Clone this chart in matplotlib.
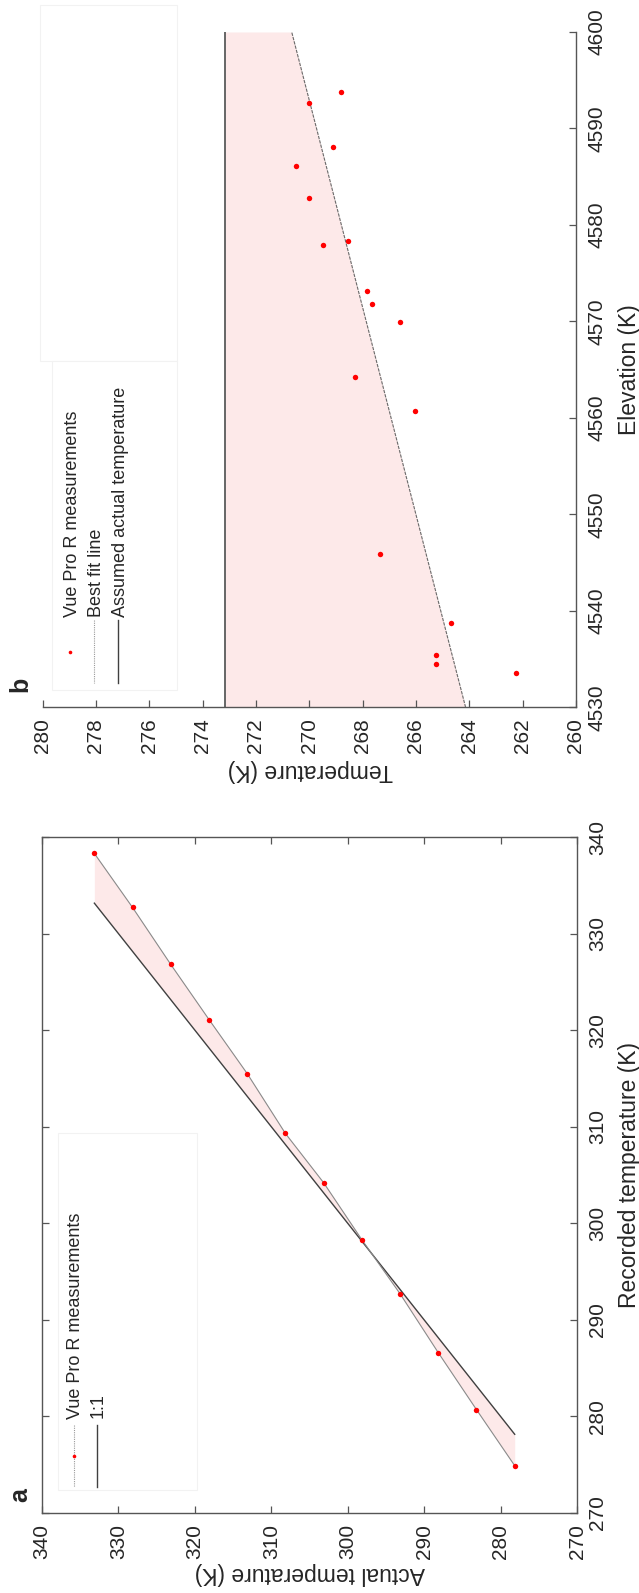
import matplotlib
matplotlib.use('Agg')
import matplotlib.pyplot as plt
from matplotlib.lines import Line2D
from matplotlib.patches import Rectangle

plt.rcParams['font.family'] = ['Liberation Sans', 'DejaVu Sans']

# ---------------- Panel a data ----------------
actual_a = [278.15, 283.15, 288.15, 293.15, 298.15, 303.15,
            308.15, 313.15, 318.15, 323.15, 328.15, 333.15]
recorded_a = [274.9, 280.7, 286.6, 292.7, 298.3, 304.2,
              309.3, 315.5, 321.1, 326.8, 332.7, 338.3]
one_to_one = [278.15, 333.15]
a_ticks = [270, 280, 290, 300, 310, 320, 330, 340]
a_xlabel = 'Actual temperature (K)'
a_ylabel = 'Recorded temperature (K)'
a_legend = ['Vue Pro R measurements', '1:1']

# ---------------- Panel b data ----------------
temp_b = [268.81, 270.0, 269.1, 270.5, 270.01, 268.54, 269.49, 267.82, 267.66,
          266.6, 268.28, 266.02, 267.34, 264.69, 265.25, 265.25, 262.24]
elev_b = [4593.8, 4592.6, 4588.05, 4586.1, 4582.8, 4578.3, 4577.9, 4573.15, 4571.8,
          4569.9, 4564.2, 4560.75, 4545.9, 4538.7, 4535.4, 4534.5, 4533.6]
fit_elev = [4530, 4600]
fit_temp = [264.14, 270.66]
assumed_temp = 273.15
assumed_elev = [4530, 4600]
b_xticks = [260, 262, 264, 266, 268, 270, 272, 274, 276, 278, 280]
b_yticks = [4530, 4540, 4550, 4560, 4570, 4580, 4590, 4600]
b_xlabel = 'Temperature (K)'
b_ylabel = 'Elevation (K)'
b_legend = ['Vue Pro R measurements', 'Best fit line', 'Assumed actual temperature']

# ---------------- styling ----------------
W, H = 639, 1593
PINK = '#fde9e9'
RED = '#ff0000'
SPINE = '#555555'
TXT = '#262626'
TICK_FS = 15
LABEL_FS = 16.5
LEG_FS = 13

fig = plt.figure(figsize=(W / 100, H / 100), dpi=100)


def fx(x):
    return x / W


def fy(y):
    return 1 - y / H


def axes_px(l, t, r, b):
    return fig.add_axes([fx(l), fy(b), (r - l) / W, (b - t) / H])


def style_ticks(ax, full_box):
    ax.tick_params(direction='in', length=5, width=0.9, color=SPINE,
                   bottom=True, right=True, top=full_box, left=full_box,
                   labelbottom=True, labelright=True, labelleft=False, labeltop=False,
                   labelsize=TICK_FS, labelcolor=TXT, pad=8)
    ax.tick_params(axis='x', labelrotation=90)
    ax.tick_params(axis='y', labelrotation=90)
    for t in ax.yaxis.get_major_ticks():
        t.label2.set_verticalalignment('center')
        t.label2.set_horizontalalignment('left')
    for name, s in ax.spines.items():
        s.set_color(SPINE)
        s.set_linewidth(1.0)
        if not full_box and name in ('top', 'left'):
            s.set_visible(False)


def vtext(x, y, s, size, rot=90, ha='left', weight='normal'):
    fig.text(fx(x), fy(y), s, rotation=rot, rotation_mode='anchor',
             ha=ha, va='baseline', fontsize=size, color=TXT, fontweight=weight)


def fline(x, y0, y1, **kw):
    fig.add_artist(Line2D([fx(x), fx(x)], [fy(y0), fy(y1)],
                          transform=fig.transFigure, **kw))


def fbox(l, t, r, b):
    fig.add_artist(Rectangle((fx(l), fy(b)), (r - l) / W, (b - t) / H,
                             transform=fig.transFigure, facecolor='white',
                             edgecolor='#f2f2f2', lw=0.8))


# ---------------- Panel a ----------------
axa = axes_px(42, 837, 577, 1513)
axa.fill_between(actual_a, recorded_a, actual_a, color=PINK, lw=0, zorder=1)
axa.plot(one_to_one, one_to_one, color='#404040', lw=1.0, zorder=2)
axa.plot(actual_a, recorded_a, color='#8a8a8a', lw=0.8, zorder=3)
axa.plot(actual_a, recorded_a, ls='none', marker='o', ms=3.9, color=RED,
         mec='none', zorder=4)
axa.set_xlim(340, 270)
axa.set_ylim(270, 340)
axa.set_xticks(a_ticks)
axa.set_yticks(a_ticks)
style_ticks(axa, True)

vtext(310, 1567, a_xlabel, LABEL_FS, rot=180, ha='center')
vtext(636, 1175, a_ylabel, LABEL_FS, rot=90, ha='center')
vtext(27, 1502, 'a', 18, weight='bold')

fbox(58, 1133, 197, 1490)
fline(74, 1425, 1487, color='#9a9a9a', lw=0.8, ls=(0, (1, 1)))
fig.add_artist(Line2D([fx(74)], [fy(1456)], transform=fig.transFigure,
                      ls='none', marker='o', ms=2.6, color=RED, mec='none'))
fline(96.7, 1425, 1487, color='#404040', lw=1.0)
vtext(80, 1419, a_legend[0], LEG_FS)
vtext(103, 1418, a_legend[1], LEG_FS)

# ---------------- Panel b ----------------
axb = axes_px(42.6, 32, 576, 707.3)
axb.fill_betweenx(fit_elev, fit_temp, assumed_temp, color=PINK, lw=0, zorder=1)
axb.plot([assumed_temp, assumed_temp], assumed_elev, color='#5a5a5a', lw=1.3, zorder=2)
axb.plot(fit_temp, fit_elev, color='#6a6a6a', lw=0.8, ls=(0, (3, 1)), zorder=3)
axb.plot(temp_b, elev_b, ls='none', marker='o', ms=3.9, color=RED,
         mec='none', zorder=4)
axb.set_xlim(280, 260)
axb.set_ylim(4530, 4600)
axb.set_xticks(b_xticks)
axb.set_yticks(b_yticks)
style_ticks(axb, False)

vtext(310, 764, b_xlabel, LABEL_FS, rot=180, ha='center')
vtext(636, 370, b_ylabel, LABEL_FS, rot=90, ha='center')
vtext(27, 692, 'b', 18, weight='bold')

fbox(40, 5, 177, 361)
fbox(52, 361, 177, 690)
fig.add_artist(Line2D([fx(70)], [fy(652)], transform=fig.transFigure,
                      ls='none', marker='o', ms=2.6, color=RED, mec='none'))
fline(94.3, 620, 683, color='#9a9a9a', lw=0.8, ls=(0, (1, 1)))
fline(118.3, 620, 683, color='#404040', lw=1.0)
vtext(77, 617, b_legend[0], LEG_FS)
vtext(101, 617, b_legend[1], LEG_FS)
vtext(125, 617, b_legend[2], LEG_FS)

fig.savefig('out.png', dpi=100, facecolor='white')
